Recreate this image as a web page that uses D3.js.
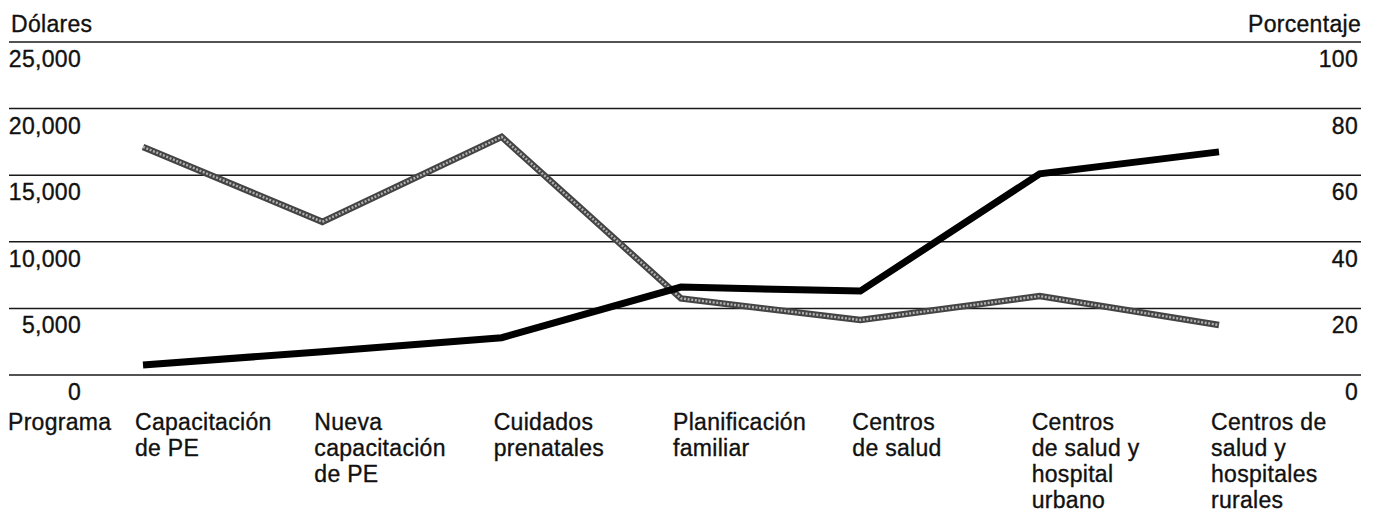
<!DOCTYPE html>
<html>
<head>
<meta charset="utf-8">
<script src="https://cdn.jsdelivr.net/npm/d3@7"></script>
<style>
  html, body { margin: 0; padding: 0; background: #fff; }
  svg { display: block; }
  text { font-family: "Liberation Sans", Arial, Helvetica, sans-serif; fill: #111; stroke: #111; stroke-width: 0.35px; letter-spacing: 0.3px; }
</style>
</head>
<body>
<svg id="chart" width="1378" height="513"></svg>
<script>
// ---- data ----
const categories = [
  ["Capacitación", "de PE"],
  ["Nueva", "capacitación", "de PE"],
  ["Cuidados", "prenatales"],
  ["Planificación", "familiar"],
  ["Centros", "de salud"],
  ["Centros", "de salud y", "hospital", "urbano"],
  ["Centros de", "salud y", "hospitales", "rurales"]
];
const categoryTitle = "Programa";
const dollarsValues = [750, 1750, 2800, 6600, 6300, 15100, 16750];   // black line (left axis)
const percentValues = [68.5, 46, 71.5, 23, 16.5, 23.7, 15];          // gray line (right axis)
const leftTicks = [0, 5000, 10000, 15000, 20000, 25000];
const rightTicks = [0, 20, 40, 60, 80, 100];
const leftTitle = "Dólares";
const rightTitle = "Porcentaje";

// ---- layout ----
const svg = d3.select("#chart");
const gridX0 = 9, gridX1 = 1361;
const y = d3.scaleLinear().domain([0, 25000]).range([375, 42]);
const yR = d3.scaleLinear().domain([0, 100]).range([375, 42]);
const x = d3.scalePoint().domain(d3.range(categories.length)).range([143, 1219]);
const fontSize = 23;

// gridlines
svg.append("g").selectAll("line").data(leftTicks).join("line")
  .attr("x1", gridX0).attr("x2", gridX1)
  .attr("y1", d => y(d)).attr("y2", d => y(d))
  .attr("stroke", "#1a1a1a").attr("stroke-width", 1.5);

// left axis labels (below each gridline)
const fmt = d3.format(",");
svg.append("g").selectAll("text").data(leftTicks).join("text")
  .attr("x", 81).attr("y", d => y(d) + 25)
  .attr("text-anchor", "end").attr("font-size", fontSize)
  .text(d => fmt(d));

// right axis labels
svg.append("g").selectAll("text").data(rightTicks).join("text")
  .attr("x", 1358).attr("y", d => yR(d) + 25)
  .attr("text-anchor", "end").attr("font-size", fontSize)
  .text(d => d);

// axis titles
svg.append("text").attr("x", 11).attr("y", 32).attr("font-size", fontSize).text(leftTitle);
svg.append("text").attr("x", 1361).attr("y", 32).attr("text-anchor", "end").attr("font-size", fontSize).text(rightTitle);

// category labels
svg.append("text").attr("x", 8).attr("y", 430).attr("font-size", fontSize).text(categoryTitle);
const cat = svg.append("g").selectAll("text").data(categories).join("text")
  .attr("x", (d, i) => x(i) - 8).attr("y", 430).attr("font-size", fontSize);
cat.selectAll("tspan").data(d => d).join("tspan")
  .attr("x", function() { return d3.select(this.parentNode).attr("x"); })
  .attr("dy", (d, i) => i === 0 ? 0 : 26)
  .text(d => d);

// gray textured line (percent, right axis)
const lineR = d3.line().x((d, i) => x(i)).y(d => yR(d));
svg.append("path").datum(percentValues)
  .attr("d", lineR).attr("fill", "none")
  .attr("stroke", "#444").attr("stroke-width", 6.5)
  .attr("stroke-linejoin", "miter").attr("stroke-linecap", "butt");
svg.append("path").datum(percentValues)
  .attr("d", lineR).attr("fill", "none")
  .attr("stroke", "#b0b0b0").attr("stroke-width", 2.4)
  .attr("stroke-dasharray", "2 1.6")
  .attr("stroke-linejoin", "miter").attr("stroke-linecap", "butt");

// black thick line (dollars, left axis)
const lineL = d3.line().x((d, i) => x(i)).y(d => y(d));
svg.append("path").datum(dollarsValues)
  .attr("d", lineL).attr("fill", "none")
  .attr("stroke", "#000").attr("stroke-width", 7)
  .attr("stroke-linejoin", "miter").attr("stroke-linecap", "butt");
</script>
</body>
</html>
